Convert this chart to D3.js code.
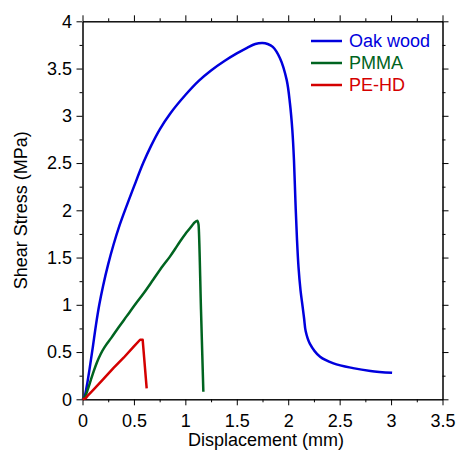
<!DOCTYPE html>
<html>
<head>
<meta charset="utf-8">
<script src="https://cdn.jsdelivr.net/npm/d3@7/dist/d3.min.js"></script>
<style>
  body { margin: 0; background: #fff; }
  text { font-family: "Liberation Sans", Arial, sans-serif; }
</style>
</head>
<body>
<div id="container"></div>
<script>
/* DATA */
const oakWood = [
  [0, 0], [0.02, 0.03], [0.04, 0.13], [0.07, 0.33], [0.1, 0.55], [0.13, 0.78],
  [0.163, 1.0], [0.2, 1.2], [0.25, 1.43], [0.3, 1.63], [0.36, 1.84], [0.43, 2.05],
  [0.5, 2.25], [0.59, 2.5], [0.67, 2.69], [0.753, 2.86], [0.85, 3.02], [1.0, 3.22],
  [1.13, 3.37], [1.25, 3.48], [1.38, 3.58], [1.5, 3.66], [1.6, 3.72], [1.68, 3.76],
  [1.75, 3.77], [1.8, 3.76], [1.85, 3.73], [1.92, 3.61], [1.985, 3.38], [2.017, 3.13],
  [2.04, 2.85], [2.056, 2.53], [2.07, 2.1], [2.085, 1.7], [2.1, 1.4], [2.12, 1.15],
  [2.14, 0.98], [2.155, 0.85], [2.17, 0.72], [2.21, 0.59], [2.31, 0.45], [2.44, 0.38],
  [2.63, 0.33], [2.8, 0.3], [3.01, 0.28]
];
const pmma = [
  [0, 0], [0.025, 0.03], [0.05, 0.1], [0.08, 0.2], [0.11, 0.3], [0.14, 0.39],
  [0.177, 0.48], [0.22, 0.56], [0.28, 0.65], [0.35, 0.76], [0.43, 0.88], [0.51, 1.0],
  [0.6, 1.13], [0.69, 1.27], [0.78, 1.41], [0.85, 1.51], [0.9, 1.59], [0.948, 1.67],
  [1.0, 1.75], [1.045, 1.81], [1.08, 1.86], [1.116, 1.89], [1.128, 1.85],
  [1.152, 0.95], [1.175, 0.08]
];
const peHD = [
  [0, 0], [0.03, 0.01], [0.056, 0.045], [0.105, 0.1], [0.2, 0.21], [0.3, 0.33],
  [0.4, 0.44], [0.5, 0.56], [0.56, 0.63], [0.585, 0.63], [0.624, 0.115]
];
const seriesNames = ["Oak wood", "PMMA", "PE-HD"];
const seriesColors = ["#0000dd", "#006420", "#d40000"];
const xMajor = [0, 0.5, 1, 1.5, 2, 2.5, 3, 3.5];
const xMinor = [0.25, 0.75, 1.25, 1.75, 2.25, 2.75, 3.25];
const yMajor = [0, 0.5, 1, 1.5, 2, 2.5, 3, 3.5, 4];
const yMinor = [0.25, 0.75, 1.25, 1.75, 2.25, 2.75, 3.25, 3.75];

/* SIZES */
const width = 457, height = 452;
const plot = {left: 82.5, right: 442.5, top: 21.3, bottom: 399.3};

const svg = d3.select("#container")
  .append("svg")
  .attr("width", width)
  .attr("height", height);

// SCALES
const xScale = d3.scaleLinear().domain([0, 3.5]).range([plot.left, plot.right]);
const yScale = d3.scaleLinear().domain([0, 4]).range([plot.bottom, plot.top]);

// AXES (major + minor, all four sides, ticks outward)
const fmt = d => d3.format("")(d);

function addAxis(axisFn, scale, transform, values, size, labels, pad) {
  const g = svg.append("g")
    .attr("transform", transform)
    .call(axisFn(scale)
      .tickValues(values)
      .tickSize(size)
      .tickPadding(pad || 3)
      .tickSizeOuter(0)
      .tickFormat(labels ? fmt : ""));
  g.select(".domain").attr("stroke", "#000");
  g.selectAll(".tick line").attr("stroke", "#000");
  g.selectAll(".tick text")
    .attr("fill", "#000")
    .style("font-size", "18px");
  return g;
}

addAxis(d3.axisBottom, xScale, `translate(0,${plot.bottom})`, xMajor, 6, true, 9);
addAxis(d3.axisBottom, xScale, `translate(0,${plot.bottom})`, xMinor, 3, false);
addAxis(d3.axisTop, xScale, `translate(0,${plot.top})`, xMajor, 6, false);
addAxis(d3.axisTop, xScale, `translate(0,${plot.top})`, xMinor, 3, false);
addAxis(d3.axisLeft, yScale, `translate(${plot.left},0)`, yMajor, 6, true, 4.5);
addAxis(d3.axisLeft, yScale, `translate(${plot.left},0)`, yMinor, 3, false);
addAxis(d3.axisRight, yScale, `translate(${plot.right},0)`, yMajor, 6, false);
addAxis(d3.axisRight, yScale, `translate(${plot.right},0)`, yMinor, 3, false);

// AXIS TITLES
svg.append("text")
  .attr("x", 266)
  .attr("y", 446)
  .attr("text-anchor", "middle")
  .style("font-size", "18px")
  .text("Displacement (mm)");

svg.append("text")
  .attr("transform", `translate(27,${(plot.top + plot.bottom) / 2}) rotate(-90)`)
  .attr("text-anchor", "middle")
  .style("font-size", "18px")
  .text("Shear Stress (MPa)");

// LINES
const allSeries = [oakWood, pmma, peHD];
const curves = [d3.curveCatmullRom.alpha(0.5), d3.curveMonotoneX, d3.curveLinear];

allSeries.forEach((data, i) => {
  svg.append("path")
    .datum(data)
    .attr("fill", "none")
    .attr("stroke", seriesColors[i])
    .attr("stroke-width", 2.5)
    .attr("stroke-linejoin", "round")
    .attr("d", d3.line()
      .curve(curves[i])
      .x(d => xScale(d[0]))
      .y(d => yScale(d[1])));
});

// LEGEND
const legend = svg.append("g");
seriesNames.forEach((name, i) => {
  const y = 41 + i * 22;
  legend.append("line")
    .attr("x1", 311).attr("x2", 342)
    .attr("y1", y).attr("y2", y)
    .attr("stroke", seriesColors[i])
    .attr("stroke-width", 2.5);
  legend.append("text")
    .attr("x", 349)
    .attr("y", y)
    .attr("dy", "0.35em")
    .attr("fill", seriesColors[i])
    .style("font-size", "18px")
    .text(name);
});
</script>
</body>
</html>
